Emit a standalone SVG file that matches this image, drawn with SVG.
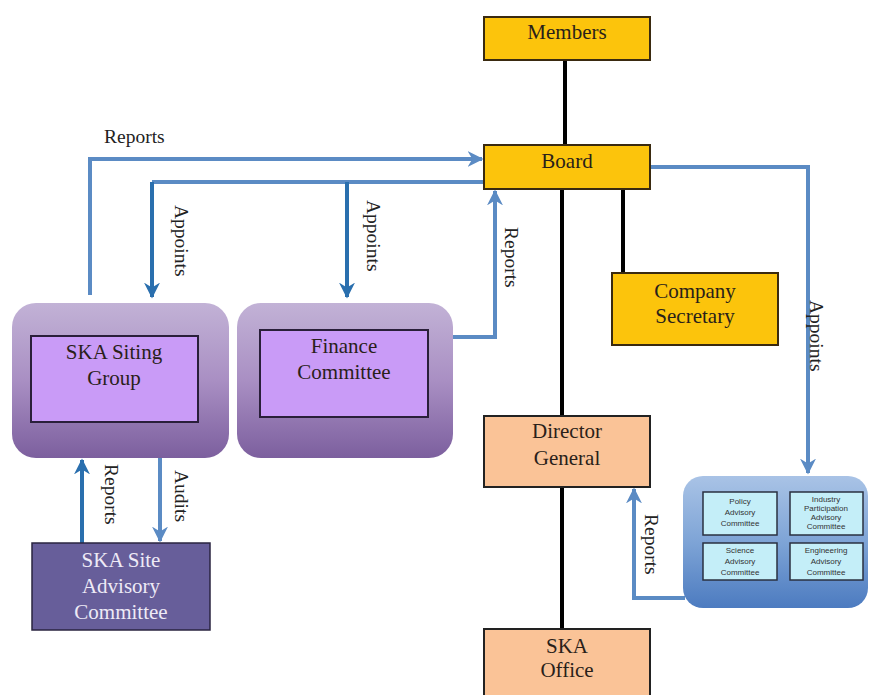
<svg xmlns="http://www.w3.org/2000/svg" width="870" height="695" viewBox="0 0 870 695">
<defs>
<linearGradient id="purp" x1="0" y1="0" x2="0" y2="1">
<stop offset="0" stop-color="#c2b2d6"/>
<stop offset="0.5" stop-color="#a98fc3"/>
<stop offset="1" stop-color="#7c5f9e"/>
</linearGradient>
<linearGradient id="blu" x1="0" y1="0" x2="0" y2="1">
<stop offset="0" stop-color="#a9c3e6"/>
<stop offset="0.5" stop-color="#7ea4d6"/>
<stop offset="1" stop-color="#4c7bc0"/>
</linearGradient>
<marker id="ahL" viewBox="0 0 10 10" refX="9" refY="5" markerWidth="4" markerHeight="4" orient="auto" markerUnits="strokeWidth">
<path d="M0,0 L10,5 L0,10 L3,5 Z" fill="#5b8bc4"/>
</marker>
<marker id="ahD" viewBox="0 0 10 10" refX="9" refY="5" markerWidth="4" markerHeight="4" orient="auto" markerUnits="strokeWidth">
<path d="M0,0 L10,5 L0,10 L3,5 Z" fill="#2a6fae"/>
</marker>
</defs>
<style>
.t{font-family:"Liberation Serif","DejaVu Serif",serif;font-size:21px;fill:#2a1f1a;text-anchor:middle}
.tw{font-family:"Liberation Serif","DejaVu Serif",serif;font-size:21px;fill:#eeeaf6;text-anchor:middle}
.lbl{font-family:"Liberation Serif","DejaVu Serif",serif;font-size:19.5px;fill:#222}
.sm{font-family:"Liberation Sans","DejaVu Sans",sans-serif;font-size:8px;fill:#333;text-anchor:middle}
.gold{fill:#fcc40c;stroke:#3a2a10;stroke-width:2}
.peach{fill:#fac397;stroke:#222;stroke-width:2}
.inner{fill:#c99bf7;stroke:#2a1f3a;stroke-width:2}
.cyan{fill:#c4eef8;stroke:#2a3040;stroke-width:1.5}
.blk{stroke:#000;stroke-width:4;fill:none}
.cl{stroke:#5b8bc4;stroke-width:4;fill:none;marker-end:url(#ahL)}
.cd{stroke:#2a6fae;stroke-width:4;fill:none;marker-end:url(#ahD)}
.cn{stroke:#5b8bc4;stroke-width:4;fill:none}
</style>
<g id="connectors">
<line class="blk" x1="565" y1="60" x2="565" y2="145"/>
<line class="blk" x1="562" y1="189" x2="562" y2="416"/>
<line class="blk" x1="623" y1="189" x2="623" y2="273"/>
<line class="blk" x1="562" y1="487" x2="562" y2="629"/>
<path class="cl" d="M90,295 V159 H482"/>
<path class="cn" d="M484,182 H152"/>
<path class="cd" d="M152,182 V297"/>
<path class="cd" d="M347,182 V297"/>
<path class="cl" d="M453,337 H495 V191"/>
<path class="cl" d="M650,167 H808 V473"/>
<path class="cl" d="M685,598 H634 V489"/>
<path class="cd" d="M82,543 V460"/>
<path class="cl" d="M160,458 V541"/>
</g>
<g id="labels">
<text class="lbl" x="104" y="143">Reports</text>
<text class="lbl" transform="translate(175,205) rotate(90)">Appoints</text>
<text class="lbl" transform="translate(367,200) rotate(90)">Appoints</text>
<text class="lbl" transform="translate(505,227) rotate(90)">Reports</text>
<text class="lbl" transform="translate(810,300) rotate(90)">Appoints</text>
<text class="lbl" transform="translate(645,514) rotate(90)">Reports</text>
<text class="lbl" transform="translate(105,464) rotate(90)">Reports</text>
<text class="lbl" transform="translate(175,470) rotate(90)">Audits</text>
</g>
<g id="members"><rect class="gold" x="484" y="17" width="166" height="43"/><text class="t" x="567" y="39">Members</text></g>
<g id="board"><rect class="gold" x="484" y="145" width="166" height="44"/><text class="t" x="567" y="168">Board</text></g>
<g id="company-secretary"><rect class="gold" x="612" y="273" width="166" height="72"/><text class="t" x="695" y="298">Company</text><text class="t" x="695" y="323">Secretary</text></g>
<g id="director-general"><rect class="peach" x="484" y="416" width="166" height="71"/><text class="t" x="567" y="438">Director</text><text class="t" x="567" y="465">General</text></g>
<g id="ska-office"><rect class="peach" x="484" y="629" width="166" height="70"/><text class="t" x="567" y="653">SKA</text><text class="t" x="567" y="677">Office</text></g>
<g id="ska-siting-group"><rect x="12" y="303" width="217" height="155" rx="24" fill="url(#purp)"/><rect class="inner" x="31" y="336" width="167" height="86"/><text class="t" x="114" y="359">SKA Siting</text><text class="t" x="114" y="385">Group</text></g>
<g id="finance-committee"><rect x="237" y="303" width="216" height="155" rx="24" fill="url(#purp)"/><rect class="inner" x="260" y="330" width="168" height="87"/><text class="t" x="344" y="353">Finance</text><text class="t" x="344" y="379">Committee</text></g>
<g id="ska-site-advisory"><rect x="32" y="543" width="178" height="87" fill="#675e9a" stroke="#2a2540" stroke-width="1.5"/><text class="tw" x="121" y="567">SKA Site</text><text class="tw" x="121" y="593">Advisory</text><text class="tw" x="121" y="619">Committee</text></g>
<g id="advisory-committees"><rect x="683" y="476" width="185" height="132" rx="20" fill="url(#blu)"/>
<rect class="cyan" x="703" y="492" width="74" height="43"/><text class="sm" x="740" y="504">Policy</text><text class="sm" x="740" y="515">Advisory</text><text class="sm" x="740" y="526">Committee</text>
<rect class="cyan" x="790" y="492" width="73" height="43"/><text class="sm" x="826" y="502" font-size="7">Industry</text><text class="sm" x="826" y="511" font-size="7">Participation</text><text class="sm" x="826" y="520" font-size="7">Advisory</text><text class="sm" x="826" y="529" font-size="6">Committee</text>
<rect class="cyan" x="703" y="543" width="74" height="37"/><text class="sm" x="740" y="553">Science</text><text class="sm" x="740" y="564">Advisory</text><text class="sm" x="740" y="575">Committee</text>
<rect class="cyan" x="790" y="543" width="73" height="37"/><text class="sm" x="826" y="553">Engineering</text><text class="sm" x="826" y="564">Advisory</text><text class="sm" x="826" y="575">Committee</text>
</g>
</svg>
